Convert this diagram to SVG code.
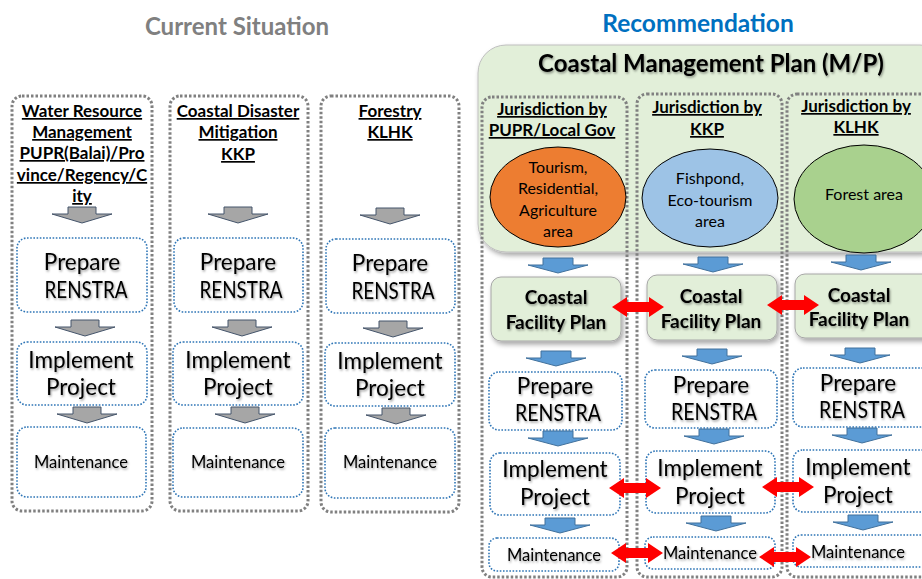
<svg xmlns="http://www.w3.org/2000/svg" width="922" height="579" viewBox="0 0 922 579">
<defs>
<style>
.t{font-family:Lato,"Liberation Sans",sans-serif;text-anchor:middle;fill:#000}
.hd{font-weight:bold;font-size:17px;text-decoration:underline}
.big{font-size:22.5px}
.mid{font-size:16px}
.mnt{font-size:16.5px}
.cfp{font-weight:bold;font-size:19px}
.col{fill:none;stroke:#808080;stroke-width:3;stroke-dasharray:2.5 2}
.box{fill:#fff;stroke:#2E75B6;stroke-width:1.6;stroke-dasharray:1.6 1.6}
.gbox{fill:#E2EFD9;stroke:#A6A6A6;stroke-width:1}
</style>
<filter id="sh" x="-10%" y="-10%" width="130%" height="130%"><feDropShadow dx="2" dy="3" stdDeviation="2.5" flood-color="#000" flood-opacity="0.35"/></filter>
<filter id="ts" x="-10%" y="-20%" width="120%" height="150%"><feDropShadow dx="1" dy="1.5" stdDeviation="1.2" flood-color="#000" flood-opacity="0.4"/></filter>
<path id="ga" d="M-14,0 H14 V7 H30 L0,16 L-30,7 H-14 Z" fill="#A6A6A6" stroke="#44546A" stroke-width="1"/>
<path id="ba" d="M-15,0 H15 V7 H30 L0,15 L-30,7 H-15 Z" fill="#5B9BD5" stroke="#41719C" stroke-width="1"/>
<path id="ra" d="M-26,0 L-11,-10 V-5 H11 V-10 L26,0 L11,10 V5 H-11 V10 Z" fill="#FF0000"/>
</defs>
<rect width="922" height="579" fill="#fff"/>

<text class="t" x="237" y="35" style="font-size:24px;font-weight:bold;fill:#808080">Current Situation</text>
<text class="t" x="698" y="32" style="font-size:24.5px;font-weight:bold;fill:#0070C0">Recommendation</text>

<!-- Current situation columns -->
<g id="cur-col1">
<rect class="col" x="12" y="96" width="140" height="415" rx="10"/>
<text class="t hd" x="82" y="117">Water Resource</text>
<text class="t hd" x="82" y="138">Management</text>
<text class="t hd" x="82" y="159">PUPR(Balai)/Pro</text>
<text class="t hd" x="82" y="181">vince/Regency/C</text>
<text class="t hd" x="82" y="202">ity</text>
</g>
<g id="cur-col2">
<rect class="col" x="170" y="96" width="138" height="415" rx="10"/>
<text class="t hd" x="238" y="117">Coastal Disaster</text>
<text class="t hd" x="238" y="138">Mitigation</text>
<text class="t hd" x="238" y="160">KKP</text>
</g>
<g id="cur-col3">
<rect class="col" x="321" y="96" width="138" height="416" rx="10"/>
<text class="t hd" x="390" y="117">Forestry</text>
<text class="t hd" x="390" y="138">KLHK</text>
</g>

<g id="cur-prep1"><rect class="box" x="17" y="238" width="130" height="74" rx="10"/><g filter="url(#ts)"><text class="t big" x="82" y="270">Prepare</text><text class="t big" x="86" y="298" textLength="83" lengthAdjust="spacingAndGlyphs">RENSTRA</text></g></g>
<g id="cur-prep2"><rect class="box" x="174" y="238" width="129" height="74" rx="10"/><g filter="url(#ts)"><text class="t big" x="238" y="270">Prepare</text><text class="t big" x="241" y="298" textLength="83" lengthAdjust="spacingAndGlyphs">RENSTRA</text></g></g>
<g id="cur-prep3"><rect class="box" x="326" y="239" width="129" height="74" rx="10"/><g filter="url(#ts)"><text class="t big" x="390" y="271">Prepare</text><text class="t big" x="393" y="299" textLength="83" lengthAdjust="spacingAndGlyphs">RENSTRA</text></g></g>

<g id="cur-impl1"><rect class="box" x="17" y="342" width="130" height="63" rx="10"/><g filter="url(#ts)"><text class="t big" x="81" y="368">Implement</text><text class="t big" x="81" y="395">Project</text></g></g>
<g id="cur-impl2"><rect class="box" x="173" y="342" width="130" height="63" rx="10"/><g filter="url(#ts)"><text class="t big" x="238" y="368">Implement</text><text class="t big" x="238" y="395">Project</text></g></g>
<g id="cur-impl3"><rect class="box" x="325" y="343" width="130" height="63" rx="10"/><g filter="url(#ts)"><text class="t big" x="390" y="369">Implement</text><text class="t big" x="390" y="396">Project</text></g></g>

<g id="cur-mnt1"><rect class="box" x="17" y="427" width="129" height="70" rx="10"/><text class="t mnt" x="81" y="468" filter="url(#ts)">Maintenance</text></g>
<g id="cur-mnt2"><rect class="box" x="173" y="428" width="130" height="69" rx="10"/><text class="t mnt" x="238" y="468" filter="url(#ts)">Maintenance</text></g>
<g id="cur-mnt3"><rect class="box" x="325" y="428" width="130" height="70" rx="10"/><text class="t mnt" x="390" y="468" filter="url(#ts)">Maintenance</text></g>

<!-- Recommendation -->
<g id="mp">
<rect x="478" y="45" width="470" height="207" rx="28" fill="#E2EFD9" stroke="#BFBFBF" stroke-width="1" filter="url(#sh)"/>
<text class="t" x="711" y="72" style="font-size:24px;font-weight:bold" filter="url(#ts)">Coastal Management Plan (M/P)</text>
</g>
<g id="jur-a">
<rect class="col" x="482" y="97" width="145" height="480" rx="10"/>
<text class="t hd" x="552" y="115">Jurisdiction by</text>
<text class="t hd" x="552" y="136">PUPR/Local Gov</text>
</g>
<g id="jur-b">
<rect class="col" x="637" y="94" width="145" height="483" rx="10"/>
<text class="t hd" x="707" y="113">Jurisdiction by</text>
<text class="t hd" x="707" y="135">KKP</text>
</g>
<g id="jur-c">
<rect class="col" x="787" y="94" width="150" height="483" rx="10"/>
<text class="t hd" x="856" y="112">Jurisdiction by</text>
<text class="t hd" x="856" y="133">KLHK</text>
</g>

<g id="area-a">
<ellipse cx="558" cy="197" rx="68" ry="50" fill="#ED7D31" stroke="#000" stroke-width="1"/>
<text class="t mid" x="558" y="173">Tourism,</text>
<text class="t mid" x="558" y="194">Residential,</text>
<text class="t mid" x="558" y="216">Agriculture</text>
<text class="t mid" x="558" y="237">area</text>
</g>
<g id="area-b">
<ellipse cx="710" cy="198" rx="68" ry="49" fill="#9DC3E6" stroke="#000" stroke-width="1"/>
<text class="t mid" x="710" y="184">Fishpond,</text>
<text class="t mid" x="710" y="206">Eco-tourism</text>
<text class="t mid" x="710" y="227">area</text>
</g>
<g id="area-c">
<ellipse cx="864" cy="199" rx="70" ry="54" fill="#A9D18E" stroke="#000" stroke-width="1"/>
<text class="t mid" x="864" y="200">Forest area</text>
</g>

<g id="cfp-a"><rect class="gbox" x="491" y="277" width="130" height="64" rx="10" filter="url(#sh)"/><g filter="url(#ts)"><text class="t cfp" x="556" y="304">Coastal</text><text class="t cfp" x="556" y="329">Facility Plan</text></g></g>
<g id="cfp-b"><rect class="gbox" x="647" y="275" width="130" height="65" rx="10" filter="url(#sh)"/><g filter="url(#ts)"><text class="t cfp" x="711" y="303">Coastal</text><text class="t cfp" x="711" y="328">Facility Plan</text></g></g>
<g id="cfp-c"><rect class="gbox" x="795" y="274" width="140" height="64" rx="10" filter="url(#sh)"/><g filter="url(#ts)"><text class="t cfp" x="859" y="302">Coastal</text><text class="t cfp" x="859" y="326">Facility Plan</text></g></g>

<g id="rprep-a"><rect class="box" x="489" y="372" width="133" height="58" rx="10"/><g filter="url(#ts)"><text class="t big" x="555" y="394">Prepare</text><text class="t big" x="558" y="421" textLength="86" lengthAdjust="spacingAndGlyphs">RENSTRA</text></g></g>
<g id="rprep-b"><rect class="box" x="645" y="370" width="132" height="58" rx="10"/><g filter="url(#ts)"><text class="t big" x="711" y="393">Prepare</text><text class="t big" x="714" y="420" textLength="86" lengthAdjust="spacingAndGlyphs">RENSTRA</text></g></g>
<g id="rprep-c"><rect class="box" x="793" y="368" width="140" height="59" rx="10"/><g filter="url(#ts)"><text class="t big" x="858" y="391">Prepare</text><text class="t big" x="862" y="418" textLength="86" lengthAdjust="spacingAndGlyphs">RENSTRA</text></g></g>

<g id="rimpl-a"><rect class="box" x="490" y="453" width="130" height="62" rx="10"/><g filter="url(#ts)"><text class="t big" x="555" y="477">Implement</text><text class="t big" x="555" y="505">Project</text></g></g>
<g id="rimpl-b"><rect class="box" x="646" y="451" width="129" height="62" rx="10"/><g filter="url(#ts)"><text class="t big" x="710" y="476">Implement</text><text class="t big" x="710" y="504">Project</text></g></g>
<g id="rimpl-c"><rect class="box" x="793" y="450" width="140" height="62" rx="10"/><g filter="url(#ts)"><text class="t big" x="858" y="475">Implement</text><text class="t big" x="858" y="503">Project</text></g></g>

<g id="rmnt-a"><rect class="box" x="489" y="538" width="130" height="33" rx="8"/><text class="t mnt" x="554" y="561" filter="url(#ts)">Maintenance</text></g>
<g id="rmnt-b"><rect class="box" x="645" y="537" width="130" height="32" rx="8"/><text class="t mnt" x="710" y="559" filter="url(#ts)">Maintenance</text></g>
<g id="rmnt-c"><rect class="box" x="793" y="535" width="140" height="32" rx="8"/><text class="t mnt" x="858" y="558" filter="url(#ts)">Maintenance</text></g>

<g id="connectors">
<use href="#ga" x="82" y="207"/>
<use href="#ga" x="238" y="207"/>
<use href="#ga" x="390" y="208"/>
<use href="#ga" x="85" y="320"/>
<use href="#ga" x="242" y="320"/>
<use href="#ga" x="393" y="321"/>
<use href="#ga" x="87" y="407"/>
<use href="#ga" x="245" y="407"/>
<use href="#ga" x="396" y="408"/>

<use href="#ba" x="558" y="258"/>
<use href="#ba" x="713" y="257"/>
<use href="#ba" x="861" y="255"/>
<use href="#ba" x="556" y="351"/>
<use href="#ba" x="712" y="349"/>
<use href="#ba" x="860" y="348"/>
<use href="#ba" x="558" y="431"/>
<use href="#ba" x="714" y="429"/>
<use href="#ba" x="862" y="428"/>
<use href="#ba" x="560" y="518"/>
<use href="#ba" x="716" y="516"/>
<use href="#ba" x="863" y="515"/>

<use href="#ra" x="638" y="307"/>
<use href="#ra" x="793" y="305"/>
<use href="#ra" x="635" y="488"/>
<use href="#ra" x="788" y="487"/>
<use href="#ra" x="637" y="553"/>
<use href="#ra" x="785" y="557"/>
</g>
</svg>
